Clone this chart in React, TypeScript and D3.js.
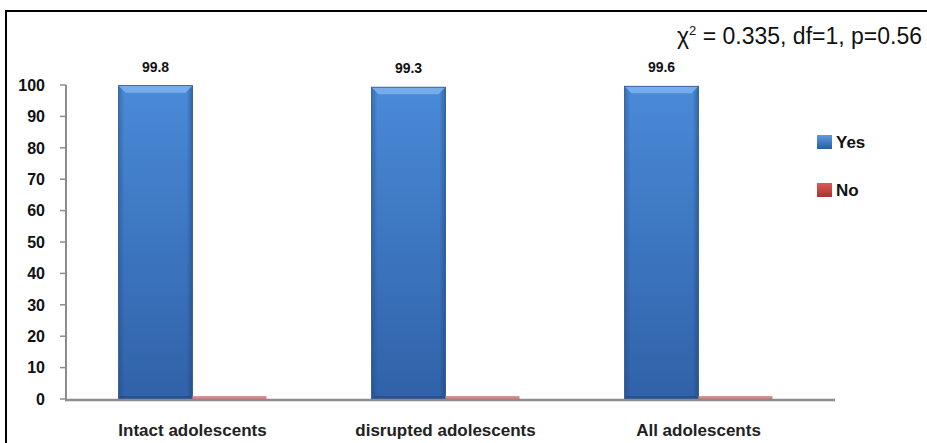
import React from "react";
import * as d3 from "d3";

const categories = ["Intact adolescents", "disrupted adolescents", "All adolescents"];
const seriesNames = ["Yes", "No"];
const yesValues = [99.8, 99.3, 99.6];
const noValues = [0.2, 0.7, 0.4];
const yesLabels = ["99.8", "99.3", "99.6"];
const yTicks = [0, 10, 20, 30, 40, 50, 60, 70, 80, 90, 100];
const statText = "0.335, df=1, p=0.56";

const W = 927;
const H = 443;
const plot = { left: 66, right: 825, top: 85, bottom: 399 };
const FONT = "'Liberation Sans', Arial, sans-serif";

export default function App() {
  const x0 = d3
    .scaleBand<string>()
    .domain(categories)
    .range([plot.left, plot.right])
    .paddingInner(0)
    .paddingOuter(0);
  const x1 = d3
    .scaleBand<string>()
    .domain(seriesNames)
    .range([0, x0.bandwidth()])
    .paddingInner(0)
    .paddingOuter(0.71);
  const y = d3.scaleLinear().domain([0, 100]).range([plot.bottom, plot.top]);

  const series = [
    { name: "Yes", values: yesValues },
    { name: "No", values: noValues },
  ];

  return (
    <div style={{ position: "fixed", left: 0, top: 0 }}>
      <svg width={W} height={H} style={{ display: "block", background: "#fff" }}>
        <defs>
          <linearGradient id="yesV" x1="0" y1="0" x2="0" y2="1">
            <stop offset="0" stopColor="#4a8ad8" />
            <stop offset="1" stopColor="#2f62a8" />
          </linearGradient>
          <linearGradient id="yesH" x1="0" y1="0" x2="1" y2="0">
            <stop offset="0" stopColor="#1b3a6a" stopOpacity="0.35" />
            <stop offset="0.08" stopColor="#1b3a6a" stopOpacity="0" />
            <stop offset="0.92" stopColor="#1b3a6a" stopOpacity="0" />
            <stop offset="1" stopColor="#1b3a6a" stopOpacity="0.45" />
          </linearGradient>
          <linearGradient id="noV" x1="0" y1="0" x2="0" y2="1">
            <stop offset="0" stopColor="#e09a98" />
            <stop offset="1" stopColor="#c87a78" />
          </linearGradient>
          <linearGradient id="legYes" x1="0" y1="0" x2="0" y2="1">
            <stop offset="0" stopColor="#5c9be6" />
            <stop offset="1" stopColor="#2c5d9e" />
          </linearGradient>
          <linearGradient id="legNo" x1="0" y1="0" x2="0" y2="1">
            <stop offset="0" stopColor="#e05a56" />
            <stop offset="1" stopColor="#a83330" />
          </linearGradient>
        </defs>

        {/* outer frame */}
        <line x1={6} y1={11} x2={W + 5} y2={11} stroke="#000" strokeWidth={2} />
        <line x1={6} y1={10} x2={6} y2={H + 5} stroke="#000" strokeWidth={2} />

        {/* y axis */}
        <line x1={plot.left} y1={y(100)} x2={plot.left} y2={y(0)} stroke="#8c8c8c" strokeWidth={2} />
        {yTicks.map((t) => (
          <g key={t}>
            <line x1={plot.left - 6} x2={plot.left} y1={y(t)} y2={y(t)} stroke="#8c8c8c" strokeWidth={1.5} />
            <text
              x={45}
              y={y(t)}
              dy="0.36em"
              textAnchor="end"
              fontFamily={FONT}
              fontWeight="bold"
              fontSize={16}
              fill="#111"
            >
              {t}
            </text>
          </g>
        ))}

        {/* bars */}
        {categories.map((c, ci) => (
          <g key={c} transform={`translate(${x0(c)},0)`}>
            {series.map((s) => {
              const bx = x1(s.name)!;
              const bw = x1.bandwidth();
              const top = y(s.values[ci]);
              const h = Math.max(y(0) - top, 3);
              const yy = y(0) - h;
              if (s.name === "Yes") {
                const bev = 7;
                return (
                  <g key={s.name}>
                    <rect x={bx} y={yy} width={bw} height={h} fill="url(#yesV)" />
                    <rect x={bx} y={yy} width={bw} height={h} fill="url(#yesH)" />
                    <polygon
                      points={`${bx},${yy} ${bx + bw},${yy} ${bx + bw - bev},${yy + bev} ${bx + bev},${yy + bev}`}
                      fill="#7db3f0"
                      opacity={0.85}
                    />
                    <polygon
                      points={`${bx},${yy + h} ${bx + bw},${yy + h} ${bx + bw - 3},${yy + h - 3} ${bx + 3},${yy + h - 3}`}
                      fill="#1d3f72"
                      opacity={0.5}
                    />
                    <rect x={bx} y={yy} width={bw} height={h} fill="none" stroke="#2a5590" strokeWidth={0.8} />
                  </g>
                );
              }
              return <rect key={s.name} x={bx} y={yy} width={bw} height={h} fill="url(#noV)" />;
            })}
            <text
              x={x1("Yes")! + x1.bandwidth() / 2}
              y={y(yesValues[ci]) - 19}
              dy="0.36em"
              textAnchor="middle"
              fontFamily={FONT}
              fontWeight="bold"
              fontSize={14}
              fill="#111"
            >
              {yesLabels[ci]}
            </text>
            <text
              x={x0.bandwidth() / 2}
              y={430}
              dy="0.36em"
              textAnchor="middle"
              fontFamily={FONT}
              fontWeight="bold"
              fontSize={17}
              fill="#222"
            >
              {c}
            </text>
          </g>
        ))}

        {/* x axis */}
        <line x1={plot.left - 1} x2={plot.right + 10} y1={y(0) + 1} y2={y(0) + 1} stroke="#8c8c8c" strokeWidth={2.5} />

        {/* legend */}
        {seriesNames.map((n, i) => (
          <g key={n} transform={`translate(817,${135 + i * 48})`}>
            <rect x={0} y={0} width={15} height={14} fill={i === 0 ? "url(#legYes)" : "url(#legNo)"} />
            <text x={19} y={7} dy="0.36em" fontFamily={FONT} fontWeight="bold" fontSize={17} fill="#111">
              {n}
            </text>
          </g>
        ))}

        {/* statistic */}
        <text x={677} y={44} fontFamily={FONT} fontSize={23} fill="#111">
          χ
          <tspan dy={-9} fontSize={13}>2</tspan>
          <tspan dy={9}>{" = " + statText}</tspan>
        </text>
      </svg>
    </div>
  );
}
